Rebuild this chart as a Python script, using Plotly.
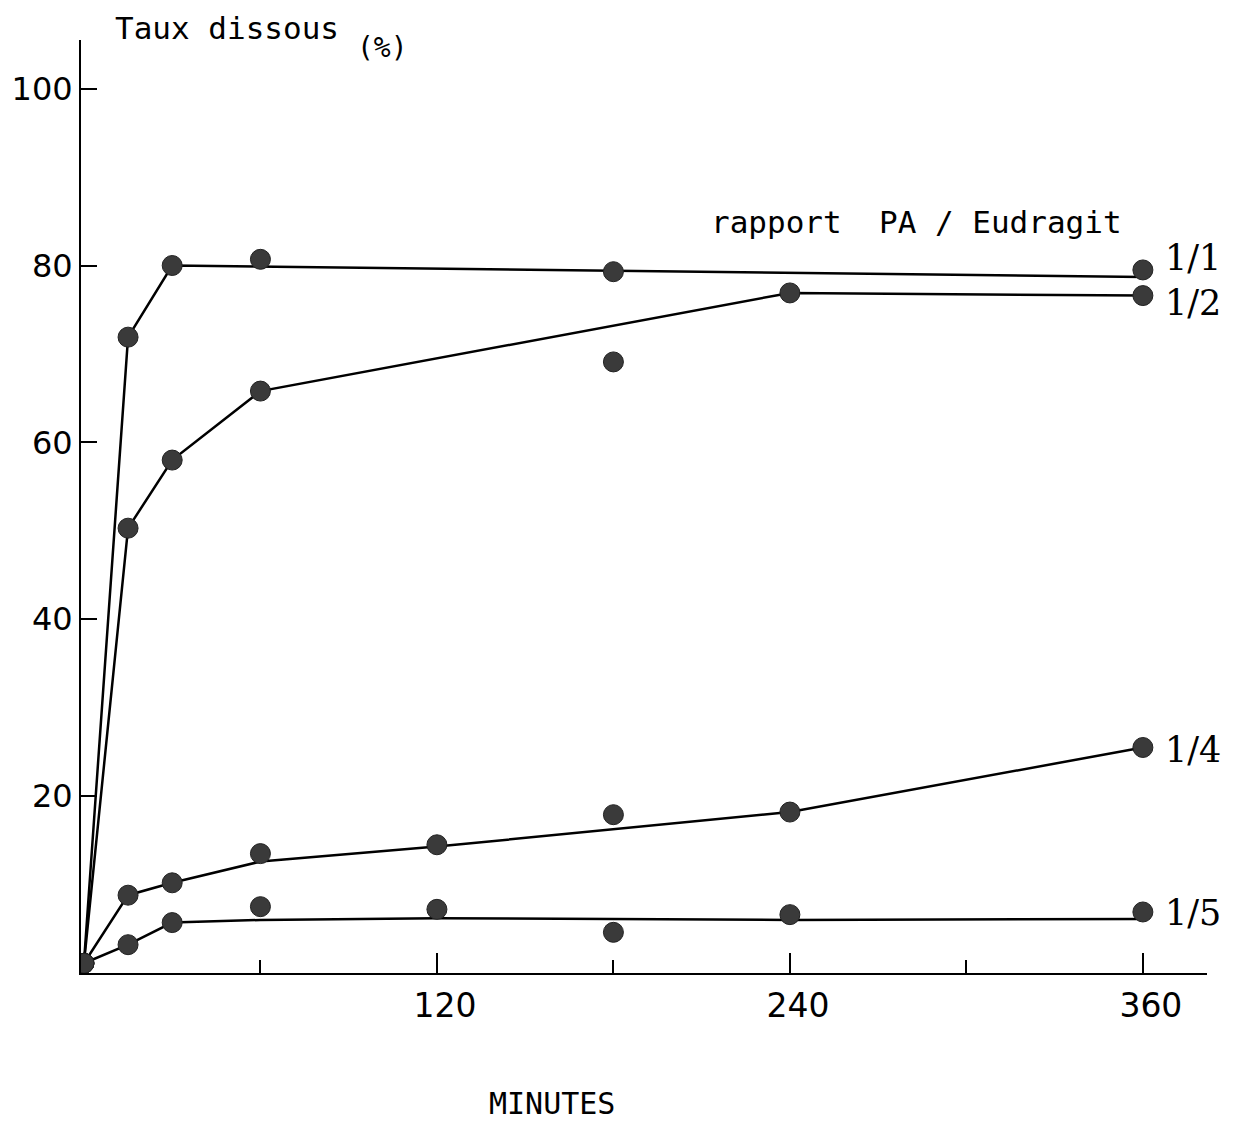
import plotly.graph_objects as go

# ---- data (minutes, % dissolved) ----
ratios = ["1/1", "1/2", "1/4", "1/5"]

t_11 = [0, 15, 30, 60, 180, 360]
y_11 = [1.1, 71.9, 80.0, 80.7, 79.3, 79.5]
line_t_11 = [0, 15, 30, 360]
line_y_11 = [1.1, 71.9, 80.0, 78.7]

t_12 = [0, 15, 30, 60, 180, 240, 360]
y_12 = [1.1, 50.3, 58.0, 65.8, 69.1, 76.9, 76.6]
line_t_12 = [0, 15, 30, 60, 240, 360]
line_y_12 = [1.1, 50.3, 58.0, 65.8, 76.9, 76.6]

t_14 = [0, 15, 30, 60, 120, 180, 240, 360]
y_14 = [1.1, 8.8, 10.2, 13.5, 14.5, 17.9, 18.2, 25.5]
line_t_14 = [0, 15, 30, 60, 120, 240, 360]
line_y_14 = [1.1, 8.8, 10.2, 12.6, 14.3, 18.2, 25.5]

t_15 = [0, 15, 30, 60, 120, 180, 240, 360]
y_15 = [1.1, 3.2, 5.7, 7.5, 7.2, 4.6, 6.6, 6.9]
line_t_15 = [0, 15, 30, 60, 120, 240, 360]
line_y_15 = [1.1, 3.2, 5.7, 6.0, 6.2, 6.0, 6.1]

x_tickvals = [120, 240, 360]
x_minor_tickvals = [60, 180, 300]
y_tickvals = [20, 40, 60, 80, 100]

# ---- layout geometry (pixels) ----
W, H = 1241, 1121
ML, MR, MT, MB = 74, 34, 40, 148
PW = W - ML - MR
PH = H - MT - MB


def px(x):
    return (x - ML) / PW


def py(y):
    return (H - MB - y) / PH


fig = go.Figure()

series = [
    (line_t_11, line_y_11, t_11, y_11),
    (line_t_12, line_y_12, t_12, y_12),
    (line_t_14, line_y_14, t_14, y_14),
    (line_t_15, line_y_15, t_15, y_15),
]
for (lt, ly, mt, my), name in zip(series, ratios):
    fig.add_trace(go.Scatter(x=lt, y=ly, mode="lines",
                             line=dict(color="black", width=2.5),
                             showlegend=False, hoverinfo="skip"))
    fig.add_trace(go.Scatter(x=mt, y=my, mode="markers", name=name,
                             marker=dict(size=20, color="#3a3a3a",
                                         line=dict(width=1, color="#222")),
                             showlegend=False))

fig.update_xaxes(range=[-1, 381.8], showgrid=False, zeroline=False,
                 showline=True, linecolor="black", linewidth=2,
                 tickmode="array", tickvals=x_tickvals,
                 ticktext=[str(v) for v in x_tickvals],
                 ticks="inside", ticklen=20, tickwidth=2, tickcolor="black",
                 minor=dict(tickmode="array", tickvals=x_minor_tickvals,
                            ticks="inside", ticklen=13, tickwidth=2,
                            tickcolor="black"),
                 ticklabelstandoff=2, ticklabelshift=8,
                 tickfont=dict(family="DejaVu Sans", size=33, color="black"))
fig.update_yaxes(range=[0, 105.5], showgrid=False, zeroline=False,
                 showline=True, linecolor="black", linewidth=2,
                 tickmode="array", tickvals=y_tickvals,
                 ticktext=[str(v) for v in y_tickvals],
                 ticks="inside", ticklen=16, tickwidth=2, tickcolor="black",
                 tickfont=dict(family="DejaVu Sans", size=32, color="black"))

mono = "DejaVu Sans Mono"
ann = [
    dict(text="Taux dissous", x=px(106), y=py(28), xanchor="left",
         font=dict(family=mono, size=31)),
    dict(text="(%)", x=px(350), y=py(47), xanchor="left",
         font=dict(family=mono, size=28)),
    dict(text="rapport  PA / Eudragit", x=px(706), y=py(222), xanchor="left",
         font=dict(family=mono, size=31)),
    dict(text="MINUTES", x=px(548), y=py(1103), xanchor="center",
         font=dict(family=mono, size=30)),
]
label_pos = {"1/1": 258, "1/2": 303, "1/4": 750, "1/5": 913}
for name in ratios:
    ann.append(dict(text=name, x=px(1163), y=py(label_pos[name]),
                    xanchor="left",
                    font=dict(family="DejaVu Serif", size=35)))
for a in ann:
    a.update(xref="paper", yref="paper", yanchor="middle", showarrow=False)
    a["font"]["color"] = "black"

fig.update_layout(width=W, height=H, margin=dict(l=ML, r=MR, t=MT, b=MB),
                  paper_bgcolor="white", plot_bgcolor="white",
                  annotations=ann)

fig.write_html("out.html")
